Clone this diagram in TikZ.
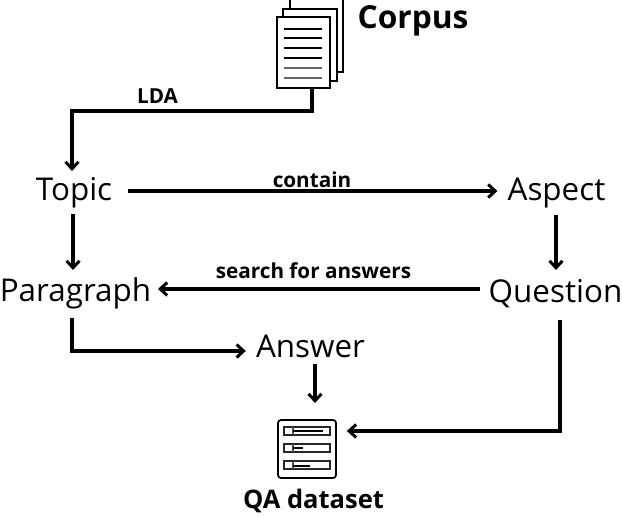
\documentclass[tikz,border=0pt]{standalone}
\usepackage{fontspec}
\setmainfont{Open Sans}
\usetikzlibrary{arrows.meta}
\tikzset{
  word/.style={inner sep=0pt,font=\fontsize{31.4}{32}\selectfont},
  edgelabel/.style={inner sep=0pt,font=\fontsize{20.7}{22}\selectfont\bfseries},
  title/.style={inner sep=0pt,font=\fontsize{31.7}{33}\selectfont\bfseries},
  conn/.style={line width=3.2pt,-{Straight Barb[length=7pt,width=13pt,line width=3pt]}},
  page/.style={draw=black,line width=2.6pt,fill=white},
  rule/.style={line width=1.3pt},
  bar/.style={draw=black!85,line width=1.8pt,fill=white}
}
\begin{document}
\begin{tikzpicture}[x=1pt,y=-1pt]
\useasboundingbox (0,0) rectangle (622,516);
% corpus icon
\draw[page] (290,-3) rectangle (343,72);
\draw[page] (283,9) rectangle (337,81);
\draw[page,line width=2.8pt] (277,17) rectangle (330,88);
\foreach \y in {29,38,48,58}{\draw[rule] (284,\y) -- (322,\y);}
\foreach \y in {68,78}{\draw[rule,black!60] (284,\y) -- (322,\y);}
\coordinate (corpusfoot) at (312,88);
\node[title,anchor=center] (corpus) at (413,21) {Corpus};
% words
\node[word] (topic) at (74,193) {Topic};
\node[word] (aspect) at (556.5,193) {Aspect};
\node[word] (paragraph) at (75.5,293.5) {Paragraph};
\node[word] (question) at (555.5,293.5) {Question};
\node[word] (answer) at (310.5,346) {Answer};
% dataset icon
\node[draw=black,line width=1.8pt,rounded corners=3pt,minimum width=58pt,minimum height=58pt,inner sep=0pt,fill=white] (dataset) at (307,449) {};
\draw[bar] (284,427) rectangle (330,435);
\draw[bar] (284,444) rectangle (330,452);
\draw[bar] (284,461) rectangle (330,469);
\foreach \y in {427,444,461}{\draw[line width=1.5pt,black!70] (293,\y) -- (293,\y+8);}
\draw[rule] (293,431) -- (323,431);
\draw[rule] (293,448) -- (303,448);
\draw[rule] (293,466) -- (310,466);
\node[inner sep=0pt,font=\fontsize{25.5}{27}\selectfont\bfseries] (qa) at (313.5,501) {QA dataset};
% labels
\node[edgelabel] (lda) at (157.5,96) {LDA};
\node[edgelabel] (contain) at (312,179.5) {contain};
\node[edgelabel] (search) at (313.5,270.5) {search for answers};
% connectors
\coordinate (ldatip) at (72,171);
\draw[conn] (corpusfoot) |- (ldatip |- 0,111) -- (ldatip);
\draw[conn] ([xshift=16pt]topic.east |- 0,191) -- ([xshift=-10pt]aspect.west |- 0,191);
\draw[conn] (73,214) -- (73,270);
\draw[conn] (556,215) -- (556,270);
\draw[conn] (480,289) -- (158,289);
\draw[conn] (72,318) |- ([xshift=-10pt]answer.west |- 0,351);
\draw[conn] (315,364) -- (315,403);
\draw[conn] (560,320) |- ([xshift=10pt]dataset.east |- 0,431);
\end{tikzpicture}
\end{document}
